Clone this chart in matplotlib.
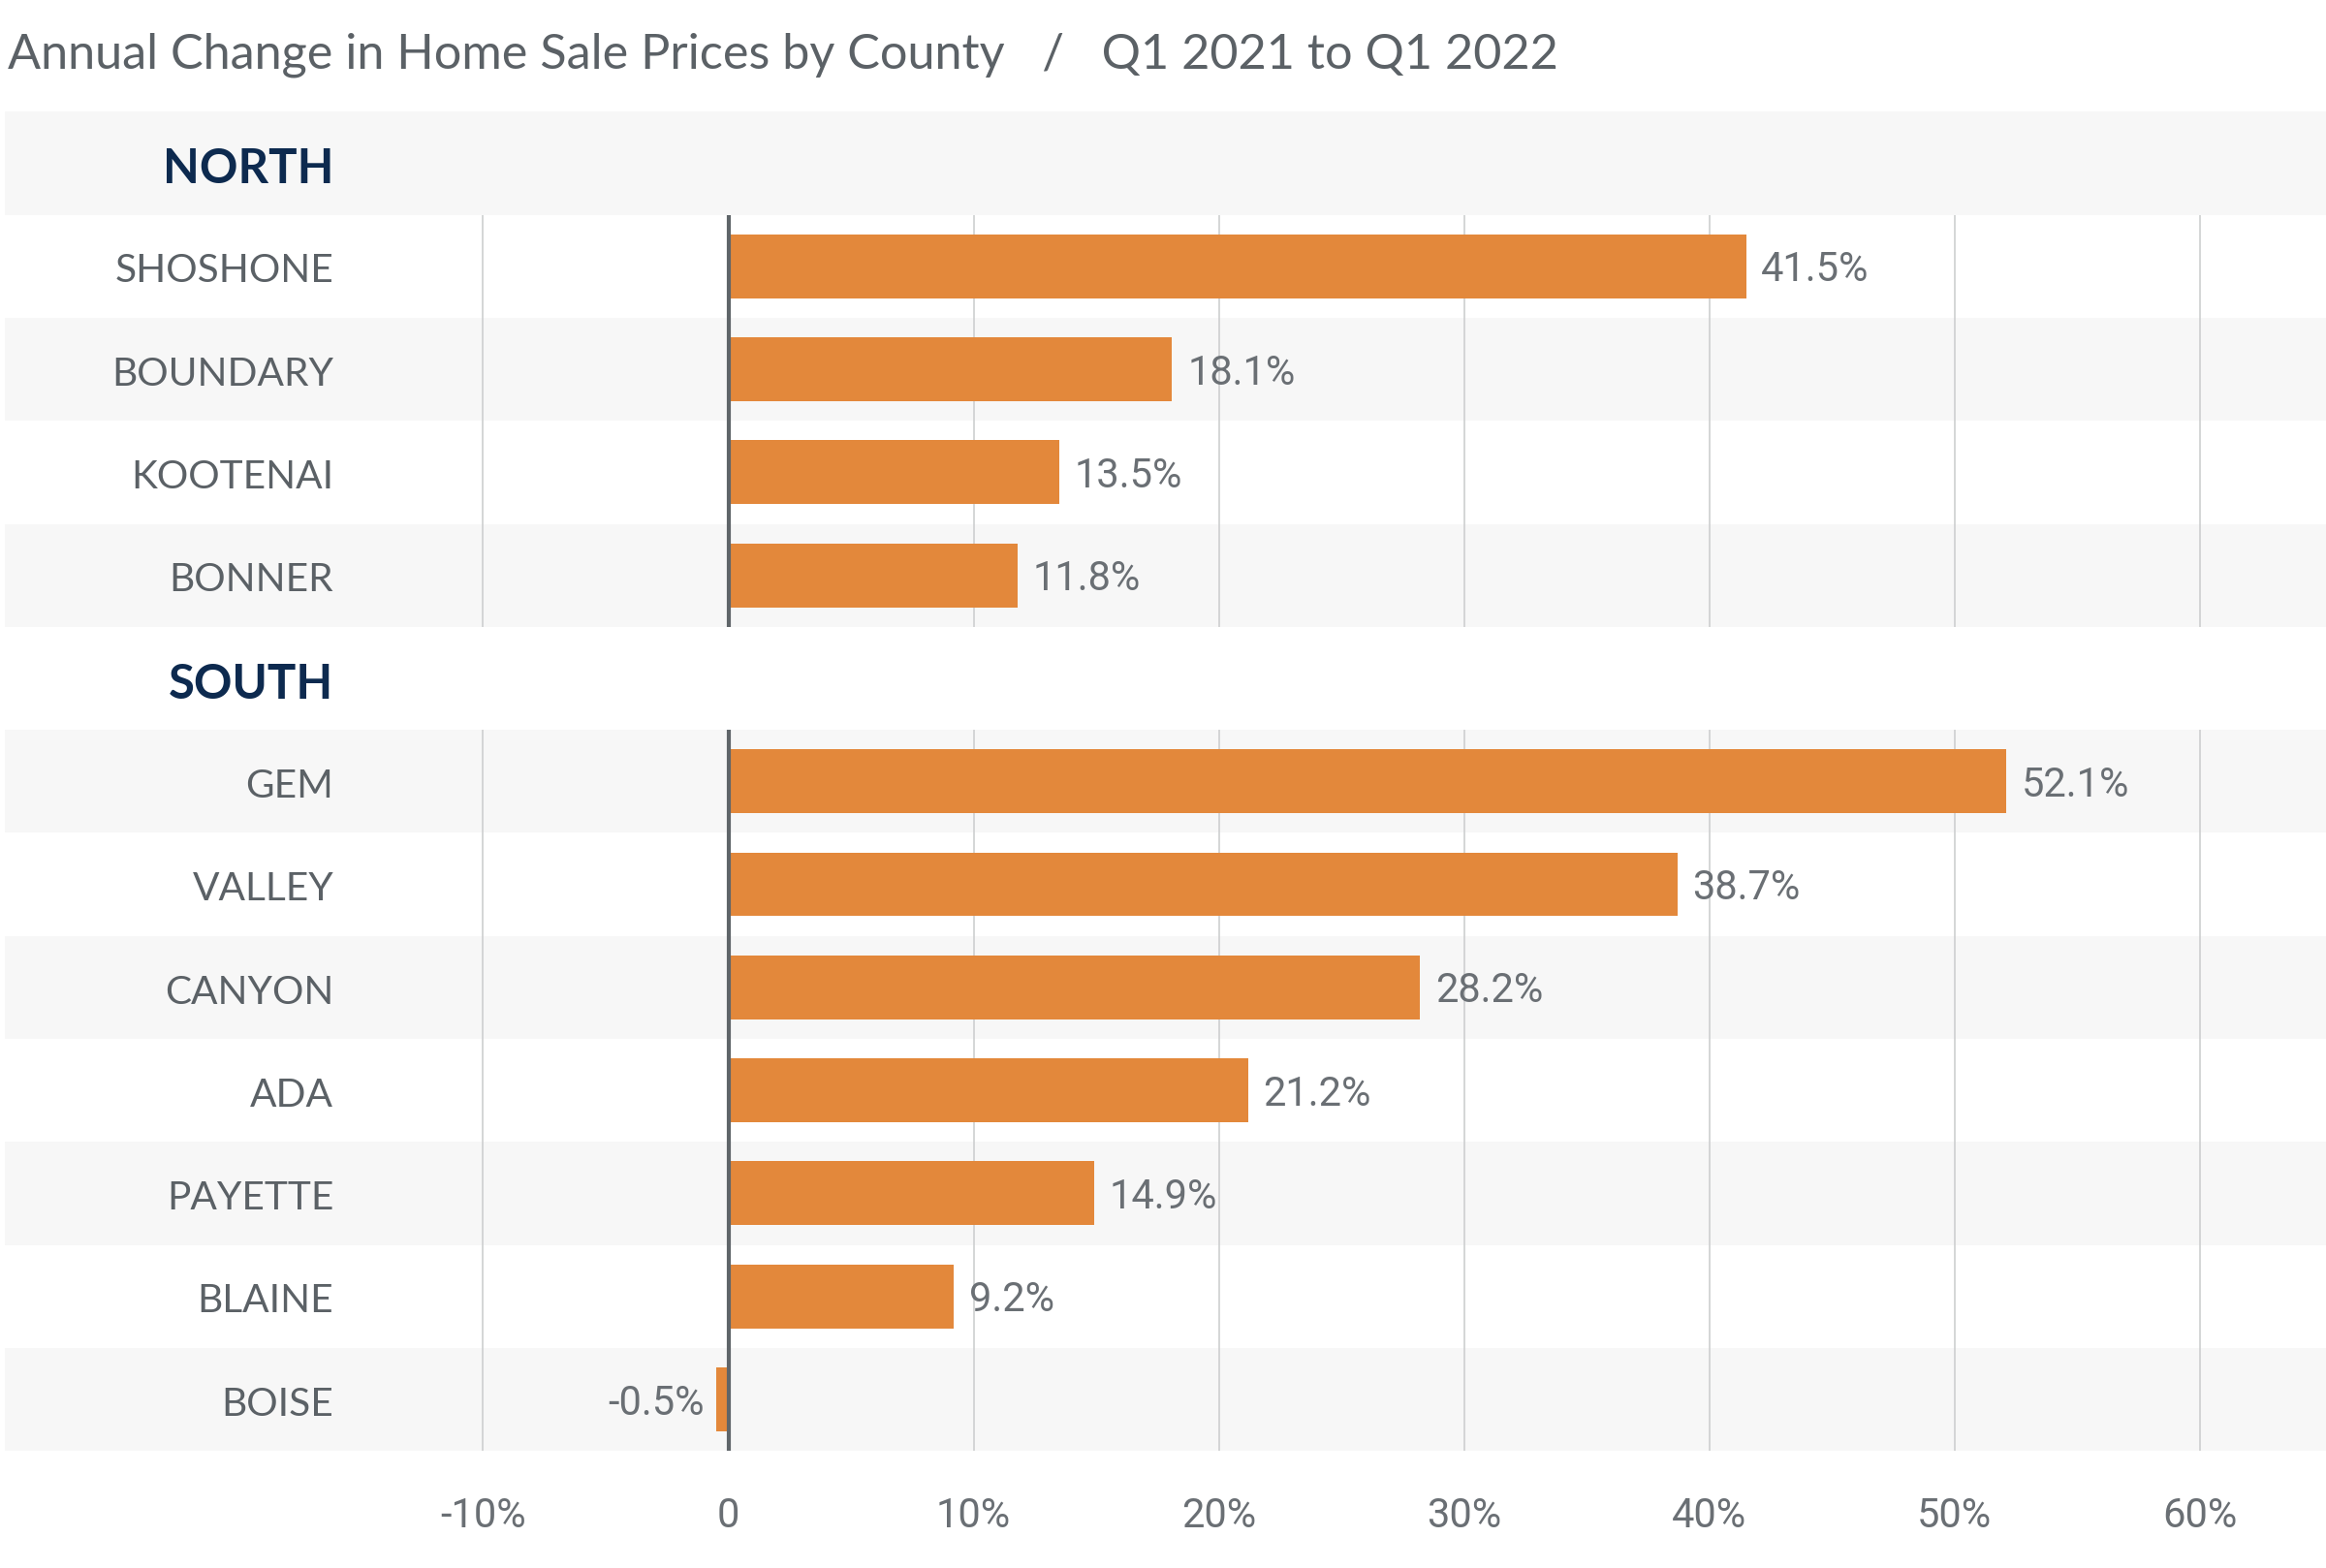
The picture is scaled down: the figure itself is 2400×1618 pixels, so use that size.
import matplotlib
matplotlib.use("Agg")
import matplotlib.pyplot as plt

# dados
regioes = ["NORTH", "SOUTH"]
condados_norte = ["SHOSHONE", "BOUNDARY", "KOOTENAI", "BONNER"]
valores_norte = [41.5, 18.1, 13.5, 11.8]
condados_sul = ["GEM", "VALLEY", "CANYON", "ADA", "PAYETTE", "BLAINE", "BOISE"]
valores_sul = [52.1, 38.7, 28.2, 21.2, 14.9, 9.2, -0.5]
ticks = [-10, 0, 10, 20, 30, 40, 50, 60]
tick_labels = ["-10%", "0", "10%", "20%", "30%", "40%", "50%", "60%"]
titulo = "Annual Change in Home Sale Prices by County   /   Q1 2021 to Q1 2022"

cor_barra = "#E3883B"
cor_faixa = "#F7F7F7"
cor_texto = "#5B6166"
cor_valor = "#6A6F74"
cor_regiao = "#0D2A4F"
fonte = ["Lato", "DejaVu Sans"]
fonte_num = ["Roboto", "DejaVu Sans"]

fig = plt.figure(figsize=(16, 10.793), dpi=150)
ax = fig.add_axes([0.0019, 0.07467, 0.9981, 0.8535])

# monta as linhas: cabecalho + condados de cada regiao
linhas = []
grupos = []
for reg, nomes, vals in [(regioes[0], condados_norte, valores_norte),
                         (regioes[1], condados_sul, valores_sul)]:
    inicio = len(linhas)
    linhas.append((reg, None, True))
    for n, v in zip(nomes, vals):
        linhas.append((n, v, False))
    grupos.append((inicio + 0.5, len(linhas) - 0.5))

# faixas alternadas
for i in range(len(linhas)):
    if i % 2 == 0:
        ax.axhspan(i - 0.5, i + 0.5, color=cor_faixa, lw=0, zorder=0)

# grade vertical so nas linhas dos condados
for y0, y1 in grupos:
    ax.vlines([t for t in ticks if t != 0], y0, y1, color="#CDCFD0", lw=0.8, zorder=1)
    ax.vlines(0, y0, y1, color="#5F6569", lw=2.0, zorder=4)

for i, (nome, val, cab) in enumerate(linhas):
    if cab:
        ax.text(-16.1, i + 0.05, nome, ha="right", va="center", fontsize=23.5,
                fontweight="bold", color=cor_regiao, family=fonte)
        continue
    ax.text(-16.1, i + 0.04, nome, ha="right", va="center", fontsize=19.5,
            color=cor_texto, family=fonte)
    ax.barh(i, val, height=0.62, color=cor_barra, zorder=3)
    if val >= 0:
        ax.annotate(f"{val}%", (val, i), xytext=(7.5, -1.5), textcoords="offset points",
                    ha="left", va="center", fontsize=20, color=cor_valor, family=fonte_num)
    else:
        ax.annotate(f"{val}%", (val, i), xytext=(-6, -1.5), textcoords="offset points",
                    ha="right", va="center", fontsize=20, color=cor_valor, family=fonte_num)

ax.set_xlim(-29.52, 65.15)
ax.set_ylim(len(linhas) - 0.5, -0.5)
ax.set_xticks(ticks)
ax.set_xticklabels(tick_labels, fontsize=20, color=cor_valor, family=fonte_num)
ax.tick_params(axis="x", length=0, pad=22)
ax.set_yticks([])
for s in ax.spines.values():
    s.set_visible(False)

fig.text(0.0032, 0.965, titulo, ha="left", va="center", fontsize=24.2,
         color=cor_texto, family=fonte)

fig.savefig("out.png", dpi=150)
